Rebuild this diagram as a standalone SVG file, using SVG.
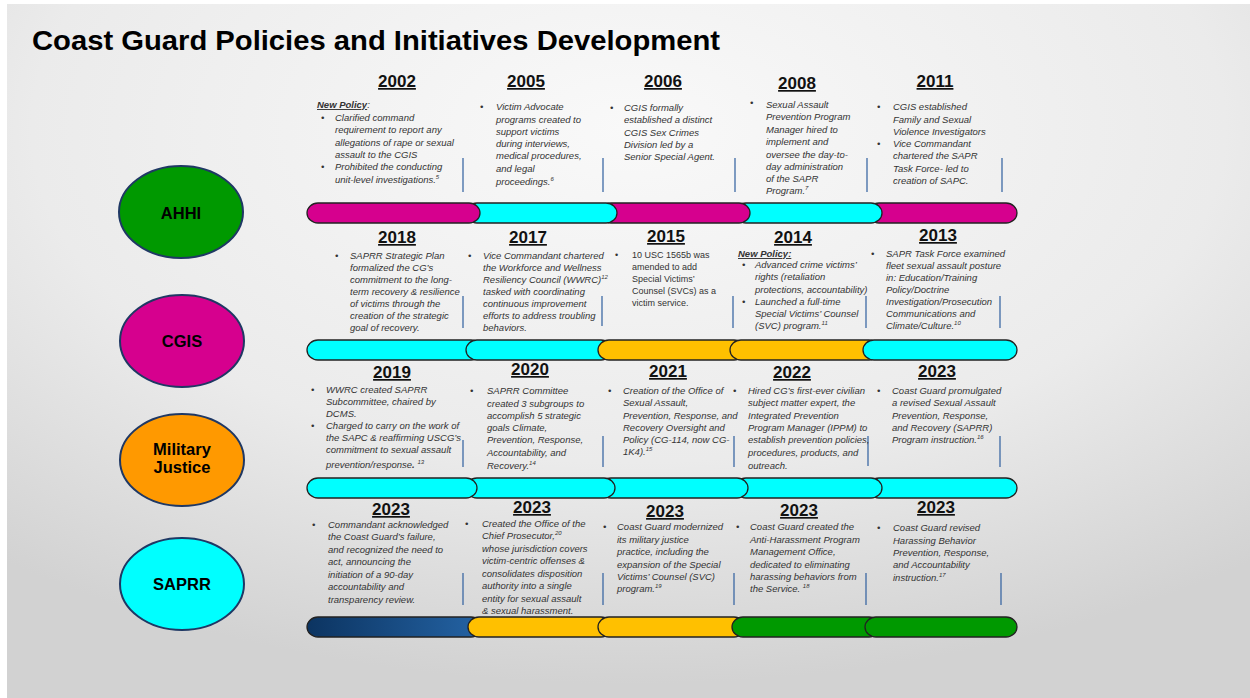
<svg xmlns="http://www.w3.org/2000/svg" width="1250" height="698" viewBox="0 0 1250 698">
<defs>
<radialGradient id="bg" cx="50%" cy="18%" r="80%">
<stop offset="0" stop-color="#f9f9f9"/>
<stop offset="0.6" stop-color="#ebebeb"/>
<stop offset="1" stop-color="#d2d2d2"/>
</radialGradient>
<linearGradient id="navy" x1="0" y1="0" x2="1" y2="0">
<stop offset="0" stop-color="#0c3461"/>
<stop offset="1" stop-color="#2463a4"/>
</linearGradient>
<style>
.title{font-family:"Liberation Sans",Arial,sans-serif;font-weight:bold;font-size:28px;fill:#000}
.yr{font-family:"Liberation Sans",Arial,sans-serif;font-weight:bold;font-size:17px;fill:#111;text-decoration:underline;text-anchor:middle}
.t{font-family:"Liberation Sans",Arial,sans-serif;font-style:italic;font-size:9.5px;fill:#333}
.r{font-family:"Liberation Sans",Arial,sans-serif;font-size:9px;fill:#333}
.np{font-weight:bold;text-decoration:underline}
.sup{font-size:6px}
.lbl{font-family:"Liberation Sans",Arial,sans-serif;font-weight:bold;font-size:16.5px;fill:#000;text-anchor:middle}
.ell{stroke:#1f3864;stroke-width:2}
.bar{stroke:#222;stroke-width:1.3}
.sep{stroke:#2e5e9e;stroke-width:1.2}
</style>
</defs>
<rect x="0" y="0" width="1250" height="698" fill="#ffffff"/>
<rect x="7" y="4" width="1243" height="694" fill="url(#bg)"/>
<text class="title" x="32" y="50" textLength="688" lengthAdjust="spacingAndGlyphs">Coast Guard Policies and Initiatives Development</text>

<g id="node-ahhi"><ellipse class="ell" cx="181" cy="212" rx="62" ry="46" fill="#009900"/><text class="lbl" x="181" y="219">AHHI</text></g>
<g id="node-cgis"><ellipse class="ell" cx="182" cy="341" rx="62" ry="46" fill="#d6008e"/><text class="lbl" x="182" y="347">CGIS</text></g>
<g id="node-mj"><ellipse class="ell" cx="182" cy="460" rx="62" ry="46" fill="#ff9900"/><text class="lbl" x="182" y="455">Military</text><text class="lbl" x="182" y="473">Justice</text></g>
<g id="node-saprr"><ellipse class="ell" cx="182" cy="584" rx="62" ry="46" fill="#00ffff"/><text class="lbl" x="182" y="590">SAPRR</text></g>

<g id="connectors">
<g id="bar-ahhi">
<rect class="bar" x="868" y="203" width="149" height="20" rx="11" ry="10" fill="#d6008e"/>
<rect class="bar" x="735" y="203" width="147" height="20" rx="11" ry="10" fill="#00ffff"/>
<rect class="bar" x="600" y="203" width="150" height="20" rx="11" ry="10" fill="#d6008e"/>
<rect class="bar" x="466" y="203" width="151" height="20" rx="11" ry="10" fill="#00ffff"/>
<rect class="bar" x="307" y="203" width="173" height="20" rx="11" ry="10" fill="#d6008e"/>
</g>
<g id="bar-cgis">
<rect class="bar" x="307" y="340" width="175" height="20" rx="11" ry="10" fill="#00ffff"/>
<rect class="bar" x="466" y="340" width="146" height="20" rx="11" ry="10" fill="#00ffff"/>
<rect class="bar" x="598" y="340" width="147" height="20" rx="11" ry="10" fill="#ffc000"/>
<rect class="bar" x="730" y="340" width="150" height="20" rx="11" ry="10" fill="#ffc000"/>
<rect class="bar" x="863" y="340" width="154" height="20" rx="11" ry="10" fill="#00ffff"/>
</g>
<g id="bar-mj">
<rect class="bar" x="868" y="478" width="149" height="20" rx="11" ry="10" fill="#00ffff"/>
<rect class="bar" x="735" y="478" width="147" height="20" rx="11" ry="10" fill="#00ffff"/>
<rect class="bar" x="600" y="478" width="148" height="20" rx="11" ry="10" fill="#00ffff"/>
<rect class="bar" x="466" y="478" width="149" height="20" rx="11" ry="10" fill="#00ffff"/>
<rect class="bar" x="307" y="478" width="170" height="20" rx="11" ry="10" fill="#00ffff"/>
</g>
<g id="bar-saprr">
<rect class="bar" x="307" y="617" width="175" height="20" rx="11" ry="10" fill="url(#navy)"/>
<rect class="bar" x="468" y="617" width="144" height="20" rx="11" ry="10" fill="#ffc000"/>
<rect class="bar" x="598" y="617" width="147" height="20" rx="11" ry="10" fill="#ffc000"/>
<rect class="bar" x="732" y="617" width="148" height="20" rx="11" ry="10" fill="#009900"/>
<rect class="bar" x="865" y="617" width="152" height="20" rx="11" ry="10" fill="#009900"/>
</g>
<g id="separators">
<line class="sep" x1="463" y1="158" x2="463" y2="192"/><line class="sep" x1="603" y1="158" x2="603" y2="192"/><line class="sep" x1="735" y1="158" x2="735" y2="192"/><line class="sep" x1="867" y1="158" x2="867" y2="192"/><line class="sep" x1="1002" y1="158" x2="1002" y2="192"/>
<line class="sep" x1="463" y1="296" x2="463" y2="328"/><line class="sep" x1="602" y1="296" x2="602" y2="326"/><line class="sep" x1="733" y1="296" x2="733" y2="328"/><line class="sep" x1="866" y1="296" x2="866" y2="328"/><line class="sep" x1="1000" y1="296" x2="1000" y2="328"/>
<line class="sep" x1="463" y1="440" x2="463" y2="467"/><line class="sep" x1="603" y1="436" x2="603" y2="467"/><line class="sep" x1="734" y1="436" x2="734" y2="467"/><line class="sep" x1="868" y1="436" x2="868" y2="466"/><line class="sep" x1="1000" y1="436" x2="1000" y2="467"/>
<line class="sep" x1="463" y1="573" x2="463" y2="605"/><line class="sep" x1="603" y1="573" x2="603" y2="605"/><line class="sep" x1="734" y1="573" x2="734" y2="605"/><line class="sep" x1="866" y1="573" x2="866" y2="605"/><line class="sep" x1="1001" y1="573" x2="1001" y2="605"/>
</g>
</g>

<g id="e2002"><text class="yr" x="397" y="87">2002</text>
<text class="t"><tspan x="317" y="108"><tspan class="np">New Policy</tspan>:</tspan>
<tspan x="321" y="121">•</tspan><tspan x="335" y="121">Clarified command</tspan>
<tspan x="335" y="133">requirement to report any</tspan>
<tspan x="335" y="146">allegations of rape or sexual</tspan>
<tspan x="335" y="158">assault to the CGIS</tspan>
<tspan x="321" y="170">•</tspan><tspan x="335" y="170">Prohibited the conducting</tspan>
<tspan x="335" y="183">unit-level investigations.<tspan class="sup" dy="-4">5</tspan></tspan></text></g>

<g id="e2005"><text class="yr" x="526" y="87">2005</text>
<text class="t"><tspan x="480" y="110">•</tspan><tspan x="496" y="110">Victim Advocate</tspan>
<tspan x="496" y="123">programs created to</tspan>
<tspan x="496" y="135">support victims</tspan>
<tspan x="496" y="147">during interviews,</tspan>
<tspan x="496" y="159">medical procedures,</tspan>
<tspan x="496" y="172">and legal</tspan>
<tspan x="496" y="185">proceedings.<tspan class="sup" dy="-4">6</tspan></tspan></text></g>

<g id="e2006"><text class="yr" x="663" y="87">2006</text>
<text class="t"><tspan x="610" y="111">•</tspan><tspan x="624" y="111">CGIS formally</tspan>
<tspan x="624" y="123">established a distinct</tspan>
<tspan x="624" y="136">CGIS Sex Crimes</tspan>
<tspan x="624" y="148">Division led by a</tspan>
<tspan x="624" y="160">Senior Special Agent.</tspan></text></g>

<g id="e2008"><text class="yr" x="797" y="89">2008</text>
<text class="t"><tspan x="750" y="106">•</tspan><tspan x="766" y="108">Sexual Assault</tspan>
<tspan x="766" y="120">Prevention Program</tspan>
<tspan x="766" y="133">Manager hired to</tspan>
<tspan x="766" y="145">implement and</tspan>
<tspan x="766" y="158">oversee the day-to-</tspan>
<tspan x="766" y="170">day administration</tspan>
<tspan x="766" y="182">of the SAPR</tspan>
<tspan x="766" y="194">Program.<tspan class="sup" dy="-4">7</tspan></tspan></text></g>

<g id="e2011"><text class="yr" x="935" y="87">2011</text>
<text class="t"><tspan x="877" y="110">•</tspan><tspan x="893" y="110">CGIS established</tspan>
<tspan x="893" y="123">Family and Sexual</tspan>
<tspan x="893" y="135">Violence Investigators</tspan>
<tspan x="877" y="147">•</tspan><tspan x="893" y="147">Vice Commandant</tspan>
<tspan x="893" y="159">chartered the SAPR</tspan>
<tspan x="893" y="172">Task Force- led to</tspan>
<tspan x="893" y="184">creation of SAPC.</tspan></text></g>

<g id="e2018"><text class="yr" x="397" y="243">2018</text>
<text class="t"><tspan x="335" y="259">•</tspan><tspan x="350" y="259">SAPRR Strategic Plan</tspan>
<tspan x="350" y="271">formalized the CG’s</tspan>
<tspan x="350" y="283">commitment to the long-</tspan>
<tspan x="350" y="295">term recovery &amp; resilience</tspan>
<tspan x="350" y="307">of victims through the</tspan>
<tspan x="350" y="319">creation of the strategic</tspan>
<tspan x="350" y="331">goal of recovery.</tspan></text></g>

<g id="e2017"><text class="yr" x="528" y="243">2017</text>
<text class="t"><tspan x="468" y="259">•</tspan><tspan x="483" y="259">Vice Commandant chartered</tspan>
<tspan x="483" y="271">the Workforce and Wellness</tspan>
<tspan x="483" y="283">Resiliency Council (WWRC)<tspan class="sup" dy="-4">12</tspan></tspan>
<tspan x="483" y="295">tasked with coordinating</tspan>
<tspan x="483" y="307">continuous improvement</tspan>
<tspan x="483" y="319">efforts to address troubling</tspan>
<tspan x="483" y="331">behaviors.</tspan></text></g>

<g id="e2015"><text class="yr" x="666" y="242">2015</text>
<text class="r"><tspan x="615" y="258">•</tspan><tspan x="632" y="258">10 USC 1565b was</tspan>
<tspan x="632" y="270">amended to add</tspan>
<tspan x="632" y="282">Special Victims’</tspan>
<tspan x="632" y="294">Counsel (SVCs) as a</tspan>
<tspan x="632" y="306">victim service.</tspan></text></g>

<g id="e2014"><text class="yr" x="793" y="243">2014</text>
<text class="t"><tspan x="738" y="257" class="np">New Policy:</tspan>
<tspan x="742" y="268">•</tspan><tspan x="755" y="268">Advanced crime victims’</tspan>
<tspan x="755" y="280">rights (retaliation</tspan>
<tspan x="755" y="293">protections, accountability)</tspan>
<tspan x="742" y="305">•</tspan><tspan x="755" y="305">Launched a full-time</tspan>
<tspan x="755" y="317">Special Victims’ Counsel</tspan>
<tspan x="755" y="329">(SVC) program.<tspan class="sup" dy="-4">11</tspan></tspan></text></g>

<g id="e2013"><text class="yr" x="938" y="241">2013</text>
<text class="t"><tspan x="871" y="257">•</tspan><tspan x="886" y="257">SAPR Task Force examined</tspan>
<tspan x="886" y="269">fleet sexual assault posture</tspan>
<tspan x="886" y="281">in: Education/Training</tspan>
<tspan x="886" y="293">Policy/Doctrine</tspan>
<tspan x="886" y="305">Investigation/Prosecution</tspan>
<tspan x="886" y="317">Communications and</tspan>
<tspan x="886" y="329">Climate/Culture.<tspan class="sup" dy="-4">10</tspan></tspan></text></g>

<g id="e2019"><text class="yr" x="392" y="378">2019</text>
<text class="t"><tspan x="311" y="393">•</tspan><tspan x="326" y="393">WWRC created SAPRR</tspan>
<tspan x="326" y="405">Subcommittee, chaired by</tspan>
<tspan x="326" y="417">DCMS.</tspan>
<tspan x="311" y="429">•</tspan><tspan x="326" y="429">Charged to carry on the work of</tspan>
<tspan x="326" y="441">the SAPC &amp; reaffirming USCG’s</tspan>
<tspan x="326" y="453">commitment to sexual assault</tspan>
<tspan x="326" y="468">prevention/response<tspan font-weight="bold">.</tspan> <tspan class="sup" dy="-4">13</tspan></tspan></text></g>

<g id="e2020"><text class="yr" x="530" y="375">2020</text>
<text class="t"><tspan x="470" y="394">•</tspan><tspan x="487" y="394">SAPRR Committee</tspan>
<tspan x="487" y="407">created 3 subgroups to</tspan>
<tspan x="487" y="419">accomplish 5 strategic</tspan>
<tspan x="487" y="431">goals Climate,</tspan>
<tspan x="487" y="443">Prevention, Response,</tspan>
<tspan x="487" y="456">Accountability, and</tspan>
<tspan x="487" y="469">Recovery.<tspan class="sup" dy="-4">14</tspan></tspan></text></g>

<g id="e2021"><text class="yr" x="668" y="377">2021</text>
<text class="t"><tspan x="608" y="394">•</tspan><tspan x="623" y="394">Creation of the Office of</tspan>
<tspan x="623" y="406">Sexual Assault,</tspan>
<tspan x="623" y="419">Prevention, Response, and</tspan>
<tspan x="623" y="431">Recovery Oversight and</tspan>
<tspan x="623" y="443">Policy (CG-114, now CG-</tspan>
<tspan x="623" y="455">1K4).<tspan class="sup" dy="-4">15</tspan></tspan></text></g>

<g id="e2022"><text class="yr" x="792" y="378">2022</text>
<text class="t"><tspan x="733" y="394">•</tspan><tspan x="748" y="394">Hired CG’s first-ever civilian</tspan>
<tspan x="748" y="406">subject matter expert, the</tspan>
<tspan x="748" y="419">Integrated Prevention</tspan>
<tspan x="748" y="431">Program Manager (IPPM) to</tspan>
<tspan x="748" y="443">establish prevention policies,</tspan>
<tspan x="748" y="456">procedures, products, and</tspan>
<tspan x="748" y="469">outreach.</tspan></text></g>

<g id="e2023a"><text class="yr" x="937" y="377">2023</text>
<text class="t"><tspan x="877" y="394">•</tspan><tspan x="892" y="394">Coast Guard promulgated</tspan>
<tspan x="892" y="406">a revised Sexual Assault</tspan>
<tspan x="892" y="419">Prevention, Response,</tspan>
<tspan x="892" y="431">and Recovery (SAPRR)</tspan>
<tspan x="892" y="443">Program instruction.<tspan class="sup" dy="-4">16</tspan></tspan></text></g>

<g id="e2023b"><text class="yr" x="391" y="515">2023</text>
<text class="t"><tspan x="312" y="528">•</tspan><tspan x="328" y="528">Commandant acknowledged</tspan>
<tspan x="328" y="540">the Coast Guard’s failure,</tspan>
<tspan x="328" y="553">and recognized the need to</tspan>
<tspan x="328" y="565">act, announcing the</tspan>
<tspan x="328" y="578">initiation of a 90-day</tspan>
<tspan x="328" y="590">accountability and</tspan>
<tspan x="328" y="603">transparency review.</tspan></text></g>

<g id="e2023c"><text class="yr" x="532" y="513">2023</text>
<text class="t"><tspan x="465" y="527">•</tspan><tspan x="482" y="527">Created the Office of the</tspan>
<tspan x="482" y="539">Chief Prosecutor,<tspan class="sup" dy="-4">20</tspan></tspan>
<tspan x="482" y="552">whose jurisdiction covers</tspan>
<tspan x="482" y="564">victim-centric offenses &amp;</tspan>
<tspan x="482" y="577">consolidates disposition</tspan>
<tspan x="482" y="589">authority into a single</tspan>
<tspan x="482" y="602">entity for sexual assault</tspan>
<tspan x="482" y="614">&amp; sexual harassment.</tspan></text></g>

<g id="e2023d"><text class="yr" x="665" y="517">2023</text>
<text class="t"><tspan x="603" y="530">•</tspan><tspan x="617" y="530">Coast Guard modernized</tspan>
<tspan x="617" y="543">its military justice</tspan>
<tspan x="617" y="555">practice, including the</tspan>
<tspan x="617" y="568">expansion of the Special</tspan>
<tspan x="617" y="580">Victims’ Counsel (SVC)</tspan>
<tspan x="617" y="592">program.<tspan class="sup" dy="-4">19</tspan></tspan></text></g>

<g id="e2023e"><text class="yr" x="799" y="516">2023</text>
<text class="t"><tspan x="736" y="530">•</tspan><tspan x="750" y="530">Coast Guard created the</tspan>
<tspan x="750" y="543">Anti-Harassment Program</tspan>
<tspan x="750" y="555">Management Office,</tspan>
<tspan x="750" y="568">dedicated to eliminating</tspan>
<tspan x="750" y="580">harassing behaviors from</tspan>
<tspan x="750" y="592">the Service. <tspan class="sup" dy="-4">18</tspan></tspan></text></g>

<g id="e2023f"><text class="yr" x="936" y="513">2023</text>
<text class="t"><tspan x="877" y="531">•</tspan><tspan x="893" y="531">Coast Guard revised</tspan>
<tspan x="893" y="544">Harassing Behavior</tspan>
<tspan x="893" y="556">Prevention, Response,</tspan>
<tspan x="893" y="568">and Accountability</tspan>
<tspan x="893" y="581">instruction.<tspan class="sup" dy="-4">17</tspan></tspan></text></g>
</svg>
